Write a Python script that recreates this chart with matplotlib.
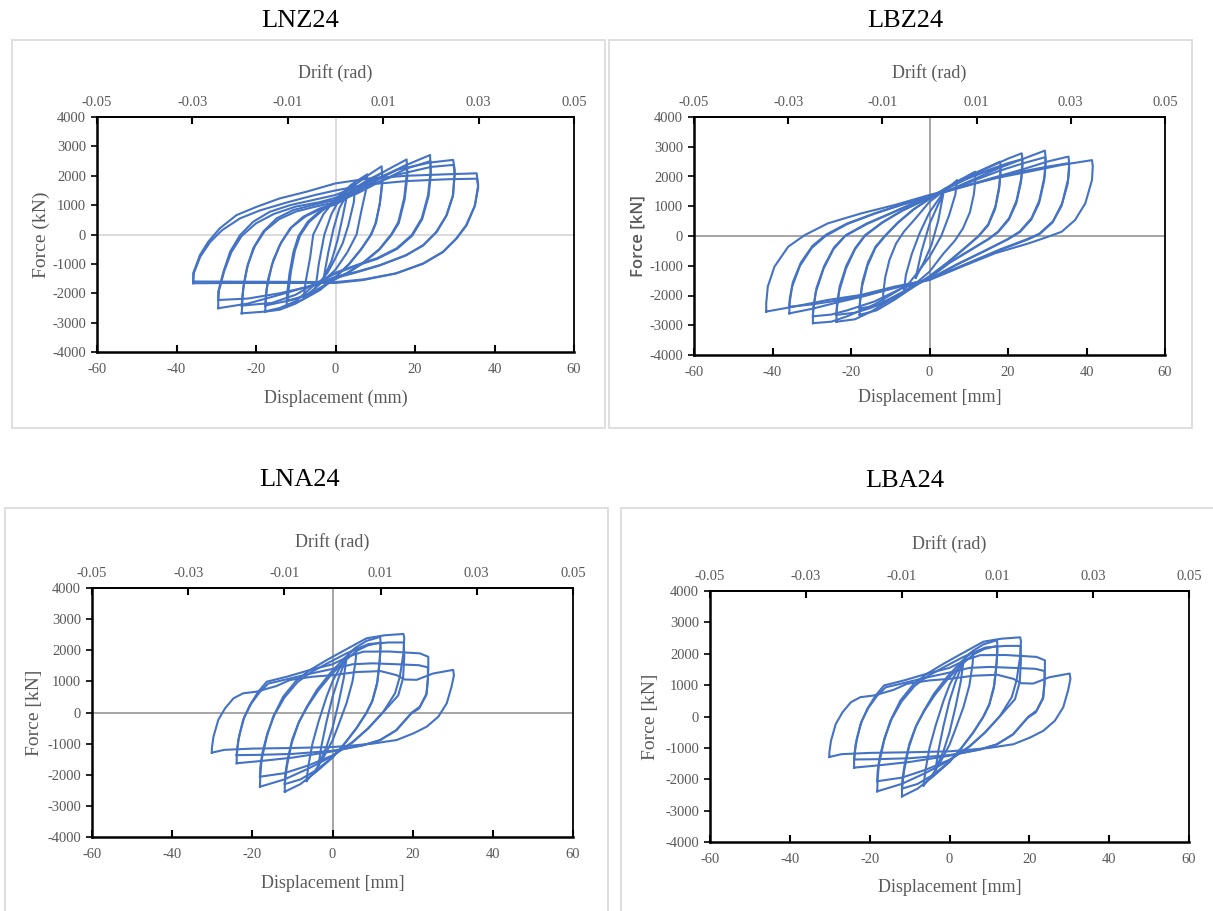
import numpy as np
import matplotlib
matplotlib.use("Agg")
import matplotlib.pyplot as plt
from matplotlib.patches import Rectangle

plt.rcParams['axes.unicode_minus'] = False

W, H = 1213, 911
BLUE = '#4472C4'
GREY = '#595959'

# ---- LNZ24 cycles: (displacement mm, force kN) ----
lnz_36a = [(-35.8, -1660), (-35.8, -1320), (-34.1, -700), (-32, -245), (-29.1, 210), (-24.9, 660),
           (-19.8, 945), (-14, 1230), (-7.2, 1460), (0, 1740), (8, 1900), (18, 2000), (28, 2050),
           (35.5, 2083), (35.9, 1690), (35.1, 1000), (33, 320), (30.5, -130), (27.1, -585),
           (22.1, -980), (15.4, -1320), (7, -1550), (0, -1650), (-10, -1650), (-25, -1650),
           (-35.8, -1660)]
lnz_36b = [(-35.8, -1600), (-35.6, -1300), (-34, -750), (-31.5, -250), (-28.5, 150), (-24, 550),
           (-19, 820), (-12, 1100), (-5, 1350), (0, 1500), (8, 1700), (18, 1820), (28, 1880),
           (35.6, 1900), (35.9, 1600), (35, 950), (32.8, 300), (30.3, -150), (27, -600),
           (22, -1000), (15, -1330), (7, -1530), (0, -1620), (-15, -1610), (-35.8, -1600)]
lnz_30a = [(-29.5, -2510), (-29.5, -1950), (-28.2, -1270), (-26.5, -585), (-24, -20), (-20.7, 435),
           (-16.5, 775), (-11.4, 1000), (-5.6, 1175), (0, 1345), (7.8, 1750), (15.4, 2200),
           (23.8, 2450), (29.6, 2540), (30, 2200), (29.6, 1345), (28, 665), (25.5, 95),
           (22.1, -357), (17.9, -700), (11.2, -1040), (5.3, -1270), (0, -1440), (-5.6, -1720),
           (-14, -2050), (-22, -2350), (-29.5, -2510)]
lnz_30b = [(-29.5, -2230), (-29.3, -1900), (-28, -1250), (-26.2, -600), (-23.6, -50), (-20, 380),
           (-15.5, 700), (-10, 950), (-4, 1100), (0, 1250), (8, 1650), (16, 2050), (24, 2300),
           (29.7, 2370), (30, 2050), (29.5, 1300), (27.8, 620), (25.2, 60), (22, -380),
           (17.5, -720), (11, -1060), (5, -1300), (0, -1480), (-6, -1750), (-14, -2000),
           (-22, -2180), (-29.5, -2230)]
lnz_24a = [(-23.6, -2684), (-23.4, -2250), (-23.2, -1833), (-22.3, -1150), (-20.7, -470),
           (-18.2, 95), (-14.8, 550), (-10.6, 835), (-5.6, 1005), (0, 1180), (5.3, 1460),
           (11.2, 1910), (17.9, 2370), (23.8, 2706), (23.9, 2140), (23.3, 1345), (21.7, 550),
           (19.2, -17), (15.4, -470), (10.4, -810), (5.3, -1040), (0, -1300), (-5.6, -1750),
           (-10, -2270), (-14, -2500), (-18, -2627), (-23.6, -2684)]
lnz_24b = [(-23.6, -2420), (-23.4, -2050), (-23, -1650), (-22, -1000), (-20.3, -400), (-17.8, 120),
           (-14.2, 520), (-10, 780), (-5, 950), (0, 1100), (5.5, 1400), (11.5, 1820), (18, 2250),
           (23.9, 2500), (24, 2050), (23.4, 1300), (21.8, 520), (19.3, -40), (15.5, -490),
           (10.5, -830), (5.3, -1060), (0, -1330), (-5.6, -1700), (-10, -2050), (-16, -2330),
           (-23.6, -2420)]
lnz_18a = [(-17.7, -2627), (-17.5, -2200), (-17.3, -1833), (-16, -1040), (-14, -357), (-11.4, 211),
           (-8.1, 605), (-3.9, 890), (0, 1060), (4, 1400), (8, 1800), (13, 2200), (17.9, 2554),
           (18, 2150), (17.3, 1250), (15.8, 420), (14, 0), (11, -500), (7, -950), (3, -1300),
           (0, -1500), (-5, -1950), (-10, -2350), (-14, -2560), (-17.7, -2627)]
lnz_18b = [(-17.7, -2420), (-17.5, -2050), (-16.9, -1500), (-15.6, -850), (-13.6, -250), (-11, 250),
           (-7.5, 620), (-3.5, 880), (0, 1020), (4.2, 1350), (8.5, 1720), (13.5, 2080), (18, 2380),
           (18.1, 2000), (17.4, 1200), (15.9, 380), (14, -30), (11, -520), (7, -970), (3, -1320),
           (0, -1520), (-5, -1900), (-10, -2200), (-17.7, -2420)]
lnz_12a = [(-12.3, -2450), (-12.2, -2050), (-11.6, -1350), (-10.6, -600), (-9.3, -50), (-7, 430),
           (-3.5, 850), (0, 1150), (4, 1600), (8, 2000), (11.6, 2320), (11.8, 1900), (11.2, 1100),
           (10.2, 400), (9, 0), (6.5, -500), (3.5, -1000), (0, -1450), (-4, -1900), (-8, -2200),
           (-12.3, -2450)]
lnz_12b = [(-12, -2250), (-11.8, -1900), (-11.2, -1250), (-10.2, -550), (-8.9, -30), (-6.6, 430),
           (-3.2, 830), (0, 1100), (4, 1500), (8, 1850), (11.7, 2100), (11.8, 1750), (11.1, 1000),
           (10, 350), (8.8, -30), (6.3, -520), (3.3, -1020), (0, -1450), (-4, -1850), (-8, -2100),
           (-12, -2250)]
lnz_8 = [(-8, -2150), (-7.5, -1600), (-6.4, -800), (-5.6, 0), (-3, 700), (0, 1200), (4, 1700),
         (8, 2050), (7.8, 1600), (6.5, 800), (5.3, 0), (3, -600), (0, -1200), (-4, -1700),
         (-8, -2150)]
lnz_5 = [(-5, -1800), (-4.2, -1000), (-2.8, 0), (-1, 700), (1, 1200), (3, 1550), (5, 1750),
         (4.6, 1100), (3.2, 300), (1.8, -300), (0, -800), (-2, -1300), (-5, -1800)]
lnz_3 = [(-3, -1500), (-1.8, -600), (-0.5, 200), (1, 900), (3, 1400), (1.8, 600), (0.5, -200),
         (-1, -900), (-3, -1500)]

# ---- LBZ24 cycles ----
lbz_42 = [(-41.6, -2540), (-41.6, -2260), (-41.2, -1700), (-39.5, -1030), (-36, -360), (-31.8, 30),
          (-25.9, 425), (-17.4, 760), (-8.9, 1040), (0, 1380), (8.2, 1660), (16.7, 1940),
          (25.2, 2160), (33.7, 2390), (41.4, 2550), (41.6, 2350), (41.4, 1880), (39.7, 1100),
          (37.1, 540), (33.7, 145), (30.3, -20), (25.2, -250), (16.7, -580), (8.2, -1030),
          (0, -1480), (-8.9, -1700), (-17.4, -1980), (-25.9, -2150), (-34.4, -2370), (-41.6, -2540)]
lbz_36a = [(-35.7, -2600), (-35.7, -2300), (-35, -1700), (-33, -1000), (-30, -400), (-26.5, 0),
           (-21, 400), (-14, 750), (-7, 1050), (0, 1330), (8, 1640), (16, 1950), (24, 2250),
           (30, 2500), (35.4, 2670), (35.6, 2450), (35.3, 1900), (33.8, 1100), (31.5, 500),
           (28, 80), (25, -100), (18, -450), (10, -900), (0, -1450), (-8, -1700), (-16, -2000),
           (-24, -2250), (-30, -2450), (-35.7, -2600)]
lbz_36b = [(-35.7, -2380), (-35.6, -2100), (-34.8, -1550), (-32.8, -900), (-29.8, -330), (-26.3, 50),
           (-21, 420), (-14, 760), (-7, 1060), (0, 1340), (8, 1630), (16, 1920), (24, 2180),
           (30, 2330), (35.5, 2450), (35.6, 2250), (35.2, 1750), (33.6, 1000), (31.3, 450),
           (28, 60), (25, -120), (18, -470), (10, -920), (0, -1460), (-8, -1720), (-16, -1980),
           (-24, -2180), (-30, -2300), (-35.7, -2380)]
lbz_30a = [(-29.7, -2930), (-29.7, -2600), (-29, -1900), (-27, -1100), (-24.5, -450), (-21.5, 0),
           (-16, 400), (-10, 750), (-5, 1050), (0, 1300), (6, 1600), (12, 1950), (18, 2300),
           (24, 2600), (29.4, 2870), (29.6, 2600), (29.3, 2000), (28, 1200), (26, 600), (23, 150),
           (20, -100), (14, -500), (7, -950), (0, -1450), (-7, -1750), (-14, -2300), (-21, -2700),
           (-25, -2880), (-29.7, -2930)]
lbz_30b = [(-29.7, -2700), (-29.6, -2400), (-28.8, -1750), (-26.8, -1000), (-24.3, -380), (-21.3, 30),
           (-16, 420), (-10, 760), (-5, 1050), (0, 1300), (6, 1580), (12, 1900), (18, 2200),
           (24, 2450), (29.5, 2650), (29.6, 2400), (29.2, 1850), (27.9, 1100), (25.9, 550),
           (23, 130), (20, -110), (14, -510), (7, -960), (0, -1450), (-7, -1750), (-14, -2200),
           (-21, -2500), (-25, -2640), (-29.7, -2700)]
lbz_24a = [(-23.7, -2880), (-23.7, -2550), (-23, -1850), (-21.3, -1100), (-19, -450), (-16.5, 0),
           (-12, 450), (-7, 850), (-3, 1100), (0, 1300), (5, 1650), (10, 2000), (15, 2300),
           (20, 2600), (23.5, 2780), (23.7, 2550), (23.4, 1950), (22.2, 1200), (20.3, 600),
           (17.5, 150), (15, -100), (10, -500), (5, -900), (0, -1400), (-5, -1750), (-10, -2150),
           (-15, -2550), (-19, -2800), (-23.7, -2880)]
lbz_24b = [(-23.7, -2650), (-23.6, -2350), (-22.9, -1700), (-21.2, -1000), (-18.9, -400), (-16.4, 30),
           (-12, 460), (-7, 850), (-3, 1100), (0, 1300), (5, 1630), (10, 1950), (15, 2220),
           (20, 2450), (23.6, 2580), (23.7, 2350), (23.3, 1800), (22.1, 1100), (20.2, 550),
           (17.4, 120), (15, -110), (10, -510), (5, -910), (0, -1410), (-5, -1750), (-10, -2100),
           (-15, -2420), (-19, -2580), (-23.7, -2650)]
lbz_18a = [(-17.8, -2650), (-17.8, -2350), (-17.2, -1700), (-15.8, -1000), (-13.8, -400), (-11.3, 0),
           (-8, 450), (-4, 900), (0, 1250), (4, 1600), (8, 1900), (13, 2200), (18, 2500),
           (18.1, 2250), (17.8, 1700), (16.8, 1000), (15, 400), (12.5, 0), (9, -400), (4.5, -900),
           (0, -1350), (-4.5, -1750), (-9, -2150), (-13.5, -2500), (-17.8, -2650)]
lbz_18b = [(-17.8, -2430), (-17.7, -2150), (-17.1, -1550), (-15.7, -900), (-13.7, -350), (-11.2, 30),
           (-8, 460), (-4, 900), (0, 1250), (4, 1580), (8, 1850), (13, 2100), (18, 2320),
           (18.1, 2080), (17.7, 1550), (16.7, 900), (14.9, 350), (12.4, -20), (9, -410),
           (4.5, -910), (0, -1360), (-4.5, -1740), (-9, -2080), (-13.5, -2350), (-17.8, -2430)]
lbz_12 = [(-11.8, -2260), (-11.8, -1950), (-11.3, -1400), (-10.2, -800), (-8.5, -250), (-6.5, 150),
          (-3.5, 600), (0, 1150), (4, 1550), (8, 1900), (11.6, 2160), (11.7, 1900), (11.3, 1400),
          (10.3, 800), (8.5, 250), (6.5, -150), (3.5, -600), (0, -1200), (-4, -1650), (-8, -2000),
          (-11.8, -2260)]
lbz_7 = [(-6.5, -1800), (-6, -1300), (-4.5, -600), (-2.5, 100), (0, 800), (3.5, 1450), (7, 1880),
         (6.6, 1400), (5, 700), (3, 0), (0, -700), (-3.5, -1300), (-6.5, -1800)]
lbz_3 = [(-3.5, -1400), (-2, -500), (0, 400), (2, 1000), (3.5, 1400), (2.2, 500), (0.5, -300),
         (-1.5, -900), (-3.5, -1400)]

# ---- LNA24 cycles (LBA24 plots the same record) ----
lna_30 = [(-30.1, -1290), (-30.1, -1150), (-29.7, -780), (-28.5, -240), (-26.8, 135), (-24.7, 456),
          (-22.3, 617), (-18.9, 670), (-14, 850), (-10.6, 1045), (-5, 1150), (0, 1200), (6, 1300),
          (12, 1330), (16, 1200), (18, 1060), (21, 1050), (25, 1250), (30.1, 1370), (30.3, 1200),
          (29.7, 830), (28.5, 296), (26.4, -135), (23.5, -456), (20.2, -670), (16, -884),
          (10, -1000), (5, -1060), (0, -1110), (-10, -1140), (-20, -1160), (-27, -1200),
          (-30.1, -1290)]
lna_24a = [(-23.9, -1630), (-23.9, -1370), (-23.5, -884), (-22.3, -241), (-20.6, 241), (-18.5, 670),
           (-16.4, 990), (-11.4, 1150), (-5.6, 1366), (0, 1550), (4, 1800), (7.7, 1955),
           (14, 1960), (21.8, 1900), (23.9, 1790), (23.9, 1400), (23.8, 1045), (23.5, 617),
           (21.8, 186), (19.8, 0), (16, -563), (11.9, -884), (7.7, -1045), (0, -1250),
           (-10, -1450), (-18, -1560), (-23.9, -1630)]
lna_24b = [(-23.9, -1370), (-23.7, -1100), (-23.2, -700), (-22, -150), (-20.3, 280), (-18.2, 650),
           (-16, 930), (-11, 1080), (-5.5, 1250), (0, 1400), (5, 1550), (10, 1580), (16, 1550),
           (21.5, 1520), (23.8, 1450), (23.8, 1100), (23.4, 560), (21.6, 130), (19.6, -40),
           (15.8, -580), (11.7, -900), (7.5, -1060), (0, -1230), (-10, -1330), (-18, -1360),
           (-23.9, -1370)]
lna_18a = [(-18.1, -2385), (-18, -2000), (-17.7, -1527), (-16.4, -778), (-14.8, -135), (-12.3, 508),
           (-8.9, 1045), (-5.6, 1366), (-1.4, 1688), (3, 2000), (8.5, 2385), (13, 2480),
           (17.7, 2524), (17.9, 2400), (17.7, 1903), (16.8, 1152), (15.6, 617), (12.7, 26),
           (9, -500), (5, -950), (0, -1400), (-6, -1800), (-12, -2150), (-18.1, -2385)]
lna_18b = [(-18.1, -2063), (-18, -1750), (-17.5, -1300), (-16.2, -650), (-14.5, -80), (-12, 480),
           (-8.7, 980), (-5.3, 1300), (-1, 1600), (3.5, 1900), (9, 2200), (14, 2250), (17.8, 2250),
           (17.9, 1800), (17.6, 1100), (16.4, 550), (12.5, -10), (8.8, -520), (5, -960),
           (0, -1380), (-6, -1700), (-12, -1950), (-18.1, -2063)]
lna_12a = [(-11.9, -2546), (-11.9, -2300), (-11.4, -1742), (-10.2, -990), (-8.5, -347), (-6.4, 186),
           (-3.9, 723), (-0.6, 1260), (3, 1750), (6, 2100), (8.5, 2300), (11.9, 2430), (12, 2250),
           (11.8, 1700), (11.2, 1000), (10, 400), (8.5, 0), (6, -500), (3, -1000), (0, -1450),
           (-4, -1900), (-8, -2300), (-11.9, -2546)]
lna_12b = [(-11.9, -2300), (-11.8, -2000), (-11.2, -1500), (-10, -850), (-8.3, -280), (-6.2, 200),
           (-3.6, 700), (-0.4, 1200), (3, 1650), (6, 1980), (8.7, 2150), (11.9, 2250), (12, 2050),
           (11.7, 1550), (11.1, 900), (9.9, 350), (8.4, -30), (5.9, -520), (2.9, -1020),
           (0, -1440), (-4, -1850), (-8, -2150), (-11.9, -2300)]
lna_6 = [(-6.5, -2200), (-6, -1700), (-5, -1000), (-3.5, -300), (-1.5, 500), (0, 1000), (2.5, 1600),
         (4.5, 1950), (6, 2100), (5.8, 1700), (5, 1000), (3.5, 300), (1.5, -400), (0, -900),
         (-2.5, -1500), (-4.5, -1900), (-6.5, -2200)]
lna_3 = [(-3.5, -1700), (-2.8, -1100), (-1.5, -300), (0, 500), (1.5, 1100), (3, 1600), (3.5, 1750),
         (2.8, 1100), (1.5, 300), (0, -500), (-1.5, -1100), (-3.5, -1700)]

lnz24_loops = [lnz_36a, lnz_36b, lnz_30a, lnz_30b, lnz_24a, lnz_24b, lnz_18a, lnz_18b,
               lnz_12a, lnz_12b, lnz_8, lnz_5, lnz_3]
lbz24_loops = [lbz_42, lbz_36a, lbz_36b, lbz_30a, lbz_30b, lbz_24a, lbz_24b, lbz_18a, lbz_18b,
               lbz_12, lbz_7, lbz_3]
lna24_loops = [lna_30, lna_24a, lna_24b, lna_18a, lna_18b, lna_12a, lna_12b, lna_6, lna_3]
lba24_loops = lna24_loops

disp_ticks = [-60, -40, -20, 0, 20, 40, 60]
force_ticks = [-4000, -3000, -2000, -1000, 0, 1000, 2000, 3000, 4000]
drift_ticks = [-0.05, -0.03, -0.01, 0.01, 0.03, 0.05]

SERIF = 'Liberation Serif'

fig = plt.figure(figsize=(W / 100, H / 100), dpi=100)


def fx(px):
    return px / W


def fy(py):
    return 1 - py / H


def draw_panel(box, frame, title, title_xy, drift_y, ylabel, ylabel_x, ylabel_font,
               xlabel, xlabel_y, loops, zero_color):
    x0, y0, x1, y1 = box
    # light grey chart-area border
    fx0, fy0, fx1, fy1 = frame
    fig.patches.append(Rectangle((fx(fx0), fy(fy1)), fx(fx1) - fx(fx0), fy(fy0) - fy(fy1),
                                 transform=fig.transFigure, fill=False,
                                 edgecolor='#D9D9D9', lw=1.2))
    ax = fig.add_axes([fx(x0), fy(y1), fx(x1) - fx(x0), fy(y0) - fy(y1)])
    if zero_color is not None:
        ax.axhline(0, color=zero_color, lw=1.3, zorder=1)
        ax.axvline(0, color=zero_color, lw=1.3, zorder=1)
    for loop in loops:
        arr = np.array(loop)
        ax.plot(arr[:, 0], arr[:, 1], color=BLUE, lw=1.5, zorder=3,
                solid_joinstyle='round')
    ax.set_xlim(-60, 60)
    ax.set_ylim(-4000, 4000)
    ax.set_xticks(disp_ticks)
    ax.set_yticks(force_ticks)
    ax.tick_params(axis='x', direction='in', length=5, width=1.5, pad=8,
                   labelsize=10.5, labelcolor=GREY, labelfontfamily=SERIF)
    ax.tick_params(axis='y', direction='out', length=4, width=1.2, pad=4,
                   labelsize=10.5, labelcolor=GREY, labelfontfamily=SERIF)
    for side in ['left', 'bottom']:
        ax.spines[side].set_linewidth(1.8)
    for side in ['top', 'right']:
        ax.spines[side].set_linewidth(1.3)
    sec = ax.secondary_xaxis('top', functions=(lambda d: d / 1200, lambda r: r * 1200))
    sec.set_xticks(drift_ticks)
    sec.set_xticklabels(['%.2f' % t for t in drift_ticks])
    sec.tick_params(direction='in', length=5, width=1.5, pad=6, labelsize=10.5,
                    labelcolor=GREY, labelfontfamily=SERIF)
    sec.spines['top'].set_linewidth(1.3)

    fig.text(fx(title_xy[0]), fy(title_xy[1]), title, ha='center', va='center',
             fontsize=19, family=SERIF, color='black')
    cx = (x0 + x1) / 2
    fig.text(fx(cx), fy(drift_y), 'Drift (rad)', ha='center', va='center',
             fontsize=13, family=SERIF, color=GREY)
    fig.text(fx(cx), fy(xlabel_y), xlabel, ha='center', va='center',
             fontsize=13, family=SERIF, color=GREY)
    fig.text(fx(ylabel_x), fy((y0 + y1) / 2), ylabel, ha='center', va='center',
             rotation=90, color=GREY, **ylabel_font)
    return ax


serif_lab = dict(fontsize=14, family=SERIF)
sans_lab = dict(fontsize=12, family='Open Sans', fontweight='semibold')

draw_panel((97, 117, 574, 352), (12, 40, 605, 428), 'LNZ24', (300, 21), 73,
           'Force (kN)', 41, serif_lab, 'Displacement (mm)', 398, lnz24_loops, '#D9D9D9')
draw_panel((694, 117, 1165, 355), (609, 40, 1192, 428), 'LBZ24', (905, 21), 73,
           'Force [kN]', 638, sans_lab, 'Displacement [mm]', 398, lbz24_loops, '#9E9E9E')
draw_panel((92, 588, 573, 837), (5, 508, 608, 918), 'LNA24', (300, 480), 542,
           'Force [kN]', 35, serif_lab, 'Displacement [mm]', 883, lna24_loops, '#9E9E9E')
draw_panel((710, 591, 1189, 842), (621, 508, 1220, 918), 'LBA24', (905, 481), 544,
           'Force [kN]', 651, serif_lab, 'Displacement [mm]', 888, lba24_loops, None)

fig.savefig('out.png', dpi=100)
